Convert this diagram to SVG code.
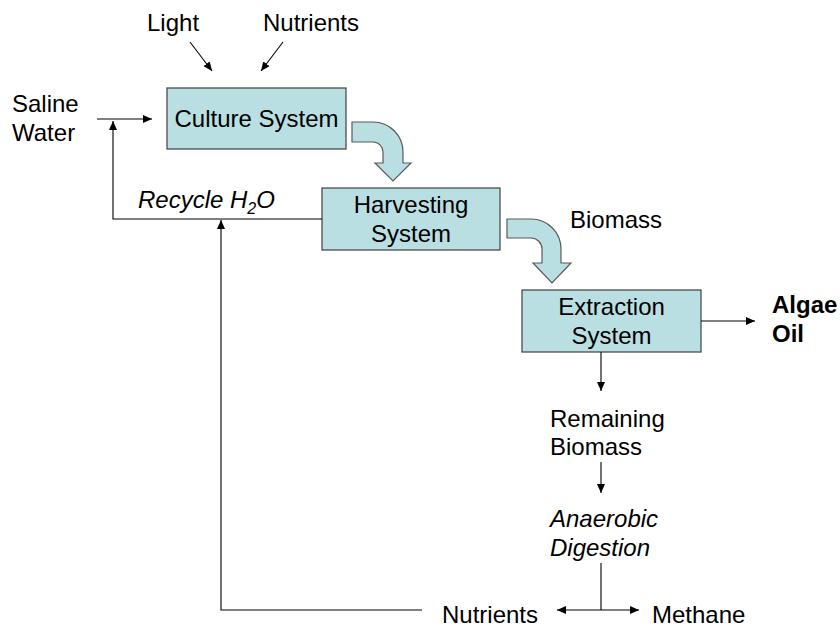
<svg xmlns="http://www.w3.org/2000/svg" width="840" height="628" viewBox="0 0 840 628">
<defs>
<style>
.box{fill:#b9dfe3;stroke:#404040;stroke-width:1.2}
.blk{fill:#b9dfe3;stroke:#5a5a5a;stroke-width:1.2}
.t{font-family:"Liberation Sans",Arial,sans-serif;font-size:24px;fill:#000}
.c{text-anchor:middle}
.i{font-style:italic}
.b{font-weight:bold}
.ln{fill:none;stroke:#000;stroke-width:1.1}
</style>
<marker id="ah" markerUnits="userSpaceOnUse" markerWidth="9" markerHeight="8" viewBox="0 0 9 8" refX="9" refY="4" orient="auto-start-reverse">
<path d="M0,0 L9,4 L0,8 Z" fill="#000"/>
</marker>
</defs>
<rect width="840" height="628" fill="#fff"/>

<g id="culture">
<rect class="box" x="167" y="88" width="179" height="61"/>
<text class="t c" x="256.5" y="127">Culture System</text>
</g>
<g id="harvesting">
<rect class="box" x="322" y="188" width="178" height="62"/>
<text class="t c" x="411" y="213">Harvesting</text>
<text class="t c" x="411" y="242">System</text>
</g>
<g id="extraction">
<rect class="box" x="522" y="290" width="179" height="62"/>
<text class="t c" x="611.5" y="315">Extraction</text>
<text class="t c" x="611.5" y="344">System</text>
</g>

<g id="labels">
<text class="t" x="147" y="31">Light</text>
<text class="t" x="263" y="31">Nutrients</text>
<text class="t" x="12" y="112">Saline</text>
<text class="t" x="12" y="141">Water</text>
<text class="t i" x="138" y="208">Recycle H<tspan font-size="16" dy="6">2</tspan><tspan dy="-6">O</tspan></text>
<text class="t" x="570" y="228">Biomass</text>
<text class="t b" x="772" y="313">Algae</text>
<text class="t b" x="772" y="342">Oil</text>
<text class="t" x="550" y="427">Remaining</text>
<text class="t" x="550" y="455">Biomass</text>
<text class="t i" x="550" y="527">Anaerobic</text>
<text class="t i" x="550" y="556">Digestion</text>
<text class="t" x="442" y="623">Nutrients</text>
<text class="t" x="652" y="623">Methane</text>
</g>

<g id="connectors">
<path class="blk" d="M352,122 L373,122 A30,30 0 0 1 403,152 L403,163 L411,163 L393,181 L375,163 L383,163 L383,152 A10,10 0 0 0 373,142 L352,142 Z"/>
<path class="blk" d="M507,219 L531,219 A30,30 0 0 1 561,249 L561,263 L571,263 L552,283 L533,263 L542,263 L542,249 A11,11 0 0 0 531,238 L507,238 Z"/>
<line class="ln" x1="190" y1="42" x2="212" y2="71" marker-end="url(#ah)"/>
<line class="ln" x1="283" y1="42" x2="261" y2="71" marker-end="url(#ah)"/>
<line class="ln" x1="97" y1="119" x2="152" y2="119" marker-end="url(#ah)"/>
<polyline class="ln" points="322,219 113,219 113,121" marker-end="url(#ah)"/>
<polyline class="ln" points="422,610 221,610 221,220" marker-end="url(#ah)"/>
<line class="ln" x1="701" y1="321" x2="755" y2="321" marker-end="url(#ah)"/>
<line class="ln" x1="601" y1="352" x2="601" y2="391" marker-end="url(#ah)"/>
<line class="ln" x1="601" y1="462" x2="601" y2="493" marker-end="url(#ah)"/>
<line class="ln" x1="601" y1="563" x2="601" y2="610"/>
<line class="ln" x1="557" y1="610" x2="639" y2="610" marker-start="url(#ah)" marker-end="url(#ah)"/>
</g>
</svg>
